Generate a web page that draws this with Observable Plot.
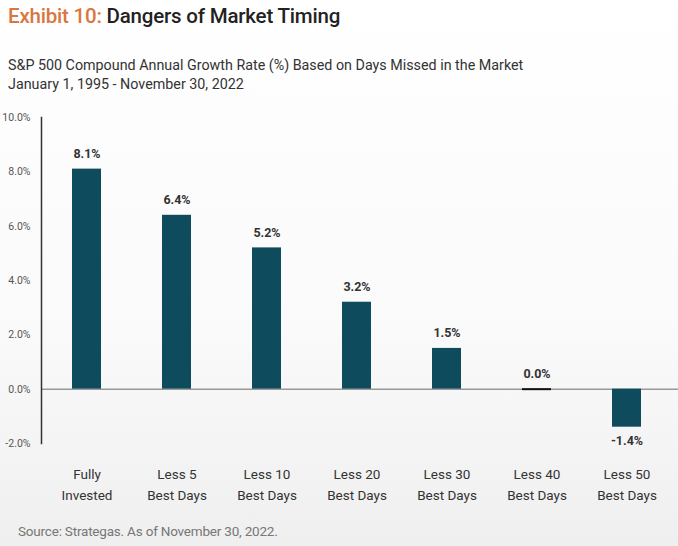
<!DOCTYPE html>
<html>
<head>
<meta charset="utf-8">
<script src="https://cdn.jsdelivr.net/npm/d3@7"></script>
<script src="https://cdn.jsdelivr.net/npm/@observablehq/plot@0.6"></script>
<style>
  html, body { margin: 0; padding: 0; }
  body { width: 678px; height: 546px; background: linear-gradient(#ffffff 0%, #fafafa 60%, #efefef 100%); font-family: Roboto, "Noto Sans", sans-serif; position: relative; overflow: hidden; }
  #header { position: relative; height: 105px; }
  #title { position: absolute; left: 8px; top: 4px; font-size: 20.5px; font-weight: 500; color: #222; letter-spacing: -0.2px; }
  #title .ex { color: #d9773f; }
  #sub { position: absolute; left: 8px; top: 56px; font-size: 14.3px; color: #333; line-height: 19px; }
  #chart { height: 410px; }
  #caption { position: absolute; left: 18px; top: 523px; font-size: 13.5px; color: #777; letter-spacing: -0.2px; }
</style>
</head>
<body>
<div id="header">
  <div id="title"><span class="ex">Exhibit 10:</span> Dangers of Market Timing</div>
  <div id="sub">S&amp;P 500 Compound Annual Growth Rate (%) Based on Days Missed in the Market<br>January 1, 1995 - November 30, 2022</div>
</div>
<div id="chart"></div>
<div id="caption">Source: Strategas. As of November 30, 2022.</div>
<script>
const categories = ["Fully\nInvested", "Less 5\nBest Days", "Less 10\nBest Days", "Less 20\nBest Days", "Less 30\nBest Days", "Less 40\nBest Days", "Less 50\nBest Days"];
const values = [8.1, 6.4, 5.2, 3.2, 1.5, 0.0, -1.4];
const yTicks = [-2, 0, 2, 4, 6, 8, 10];

const data = categories.map((c, i) => ({category: c, value: values[i]}));
const barColor = "#0e4b5d";

const chart = Plot.plot({
  width: 678,
  height: 410,
  marginLeft: 41,
  marginRight: 7,
  marginTop: 12,
  marginBottom: 72,
  style: {background: "transparent", fontFamily: "Roboto, 'Noto Sans', sans-serif"},
  x: {domain: categories, paddingInner: 0.6785, paddingOuter: 0.3326, label: null},
  y: {domain: [-2, 10], label: null},
  marks: [
    Plot.ruleY([0], {stroke: "#999", strokeWidth: 1.5, insetRight: -7}),
    Plot.barY(data, {x: "category", y1: 0, y2: "value", fill: barColor}),
    Plot.tickY(data.filter(d => d.value === 0), {x: "category", y: "value", stroke: "#111", strokeWidth: 2}),
    Plot.text(data.filter(d => d.value >= 0), {x: "category", y: "value", text: d => d.value.toFixed(1) + "%", dy: -15, fontSize: 12.5, fontWeight: "bold", fill: "#333"}),
    Plot.text(data.filter(d => d.value < 0), {x: "category", y: "value", text: d => d.value.toFixed(1) + "%", dy: 14, fontSize: 12.5, fontWeight: "bold", fill: "#333"}),
    Plot.axisY({ticks: yTicks, tickSize: 0, tickPadding: 11, tickFormat: d => d.toFixed(1) + "%", fontSize: 10.5, fill: "#555", label: null}),
    Plot.axisX({tickSize: 0, tickPadding: 21, fontSize: 13.5, fill: "#333", lineHeight: 1.55, label: null}),
    Plot.frame({anchor: "left", stroke: "#333", strokeWidth: 1.5})
  ]
});
document.getElementById("chart").appendChild(chart);
</script>
</body>
</html>
